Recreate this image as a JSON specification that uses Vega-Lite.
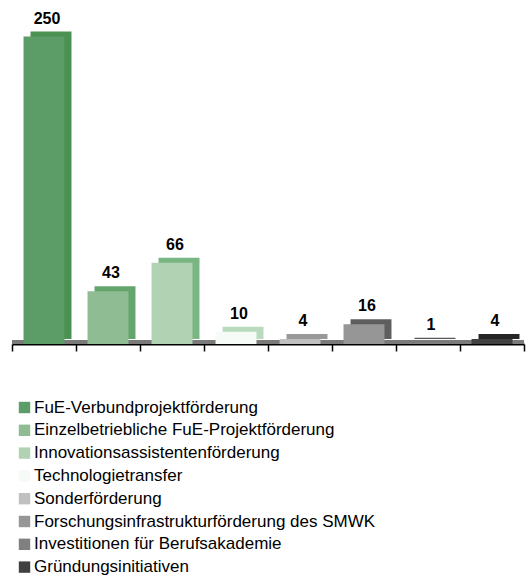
{
  "$schema": "https://vega.github.io/schema/vega-lite/v6.json",
  "width": 512,
  "height": 332,
  "autosize": "none",
  "padding": {"left": 12, "top": 12, "right": 2, "bottom": 232},
  "background": "white",
  "config": {
    "view": {"stroke": null},
    "font": "Liberation Sans",
    "axisX": {
      "labels": false,
      "tickBand": "extent",
      "domainColor": "#000000",
      "domainWidth": 2,
      "tickColor": "#000000",
      "tickWidth": 1.5,
      "tickSize": 7,
      "grid": false
    }
  },
  "data": {
    "values": [
      {"name": "FuE-Verbundprojektförderung", "value": 250},
      {"name": "Einzelbetriebliche FuE-Projektförderung", "value": 43},
      {"name": "Innovationsassistentenförderung", "value": 66},
      {"name": "Technologietransfer", "value": 10},
      {"name": "Sonderförderung", "value": 4},
      {"name": "Forschungsinfrastrukturförderung des SMWK", "value": 16},
      {"name": "Investitionen für Berufsakademie", "value": 1},
      {"name": "Gründungsinitiativen", "value": 4}
    ]
  },
  "resolve": {"scale": {"color": "independent"}, "legend": {"color": "independent"}},
  "layer": [
    {
      "mark": {"type": "rule", "color": "#7a7a7a", "strokeWidth": 4, "yOffset": -2},
      "encoding": {
        "y": {"datum": 0, "type": "quantitative", "scale": {"domain": [0, 270]}, "axis": null}
      }
    },
    {
      "mark": {"type": "bar", "xOffset": 7, "yOffset": -5, "y2Offset": -4, "width": {"band": 0.64}},
      "encoding": {
        "x": {"field": "name", "type": "nominal", "sort": null, "title": null, "scale": {"paddingInner": 0, "paddingOuter": 0}},
        "y": {"field": "value", "type": "quantitative", "scale": {"domain": [0, 270]}, "axis": null},
        "color": {
          "field": "name", "type": "nominal", "sort": null, "legend": null,
          "scale": {
            "domain": ["FuE-Verbundprojektförderung", "Einzelbetriebliche FuE-Projektförderung", "Innovationsassistentenförderung", "Technologietransfer", "Sonderförderung", "Forschungsinfrastrukturförderung des SMWK", "Investitionen für Berufsakademie", "Gründungsinitiativen"],
            "range": ["#4a9152", "#64a56d", "#7ab683", "#b9dabc", "#999999", "#5e5e5e", "#565656", "#262626"]
          }
        }
      }
    },
    {
      "mark": {"type": "bar", "width": {"band": 0.64}},
      "encoding": {
        "x": {"field": "name", "type": "nominal", "sort": null, "title": null, "scale": {"paddingInner": 0, "paddingOuter": 0}},
        "y": {"field": "value", "type": "quantitative", "scale": {"domain": [0, 270]}, "axis": null},
        "color": {
          "field": "name", "type": "nominal", "sort": null,
          "scale": {
            "domain": ["FuE-Verbundprojektförderung", "Einzelbetriebliche FuE-Projektförderung", "Innovationsassistentenförderung", "Technologietransfer", "Sonderförderung", "Forschungsinfrastrukturförderung des SMWK", "Investitionen für Berufsakademie", "Gründungsinitiativen"],
            "range": ["#5c9c66", "#8fbc93", "#b2d2b4", "#f7fbf7", "#c0c0c0", "#969696", "#808080", "#404040"]
          },
          "legend": {
            "orient": "none",
            "legendX": 4,
            "legendY": 387,
            "title": null,
            "symbolType": "square",
            "symbolSize": 130,
            "symbolStrokeWidth": 0,
            "labelFont": "Liberation Sans",
            "labelFontSize": 17,
            "labelColor": "#000000",
            "labelOffset": 1,
            "rowPadding": 4.8,
            "padding": 0,
            "labelLimit": 500
          }
        }
      }
    },
    {
      "mark": {"type": "text", "baseline": "alphabetic", "dy": -13, "dx": 3, "fontWeight": "bold", "fontSize": 16, "font": "Liberation Sans", "color": "#000000"},
      "encoding": {
        "x": {"field": "name", "type": "nominal", "sort": null, "title": null, "scale": {"paddingInner": 0, "paddingOuter": 0}},
        "y": {"field": "value", "type": "quantitative", "scale": {"domain": [0, 270]}, "axis": null},
        "text": {"field": "value", "type": "quantitative"}
      }
    }
  ]
}
